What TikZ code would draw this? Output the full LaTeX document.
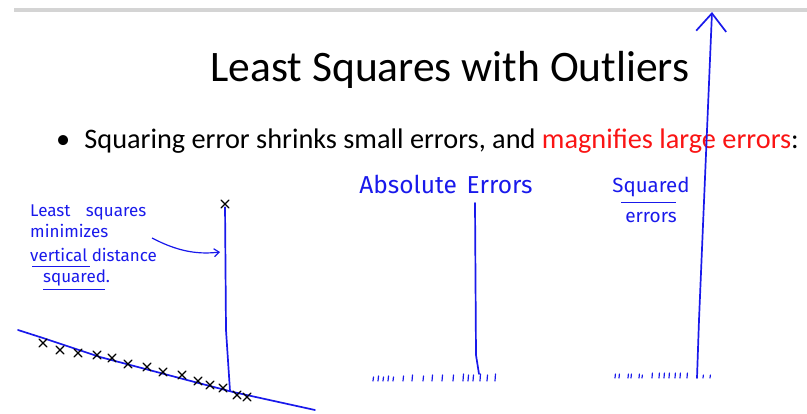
\documentclass[tikz,border=0pt]{standalone}
\usepackage{fontspec}
\setmainfont{Carlito}
\newfontfamily\handfont{Fira Sans}
\usetikzlibrary{arrows.meta,positioning}
\definecolor{inkblue}{RGB}{25,25,235}
\definecolor{alertred}{RGB}{250,20,20}
\definecolor{rulegray}{RGB}{212,212,212}
\tikzset{
  titletext/.style={font=\fontsize{43.5}{48}\selectfont,inner sep=0pt},
  bullettext/.style={font=\fontsize{28.3}{32}\selectfont,inner sep=0pt,anchor=west},
  hand/.style={font=\handfont,text=inkblue,inner sep=0pt,align=left},
  handline/.style={hand,font=\handfont\fontsize{17}{20}\selectfont,anchor=base west},
  inkline/.style={draw=inkblue,line width=1.7pt,line cap=round},
  tickmark/.style={draw=inkblue,line width=1.2pt,line cap=round},
  crossmark/.style={draw=black,line width=1.3pt,line cap=round}
}
\begin{document}
\begin{tikzpicture}[x=1pt,y=-1pt]
  \useasboundingbox (0,0) rectangle (807,413);
  \draw[rulegray,line width=4.5pt] (14,10) -- (807,10);

  % title and bullet
  \node[titletext] (title) at (450,70) {Least Squares with Outliers};
  \node[bullettext] (point) at (56,141) {\textbullet\hspace{0.5em}Squaring error shrinks small errors, and \textcolor{alertred}{magnifies large errors}:};

  % left panel: line fit with an outlier
  \draw[inkline] (18,330) -- (43,338) -- (100,357) -- (187,380) -- (233,392) -- (315,410);
  \foreach \p in {(43,343),(60,350),(78,353),(97,355),(112,358),(128,364),(147,367),(163,372),(182,375),(198,381),(210,385),(223,388),(237,395),(247,397)}
    \draw[crossmark] \p +(-4,-4) -- +(4,4) \p +(-4,4) -- +(4,-4);
  \node[inner sep=3pt] (outlier) at (225,204) {};
  \draw[crossmark] (outlier.center) +(-4,-4) -- +(4,4) (outlier.center) +(-4,4) -- +(4,-4);
  \coordinate (fitfoot) at (230,391);
  \draw[inkline] (outlier) -- (226,330) -- (fitfoot);

  \node[handline] (lsqa) at (30,216) {Least\hspace{0.9em}squares};
  \node[handline] (lsqb) at (30,237) {minimizes};
  \node[handline] (lsqc) at (30,261) {vertical distance};
  \node[handline] (lsqd) at (43,282) {squared.};
  \draw[inkblue,line width=1pt] (32,266) -- (90,266);
  \draw[inkblue,line width=1pt] (43,289) -- (105,289);
  \coordinate (bendstart) at (152,238);
  \coordinate (bendend) at (220,252);
  \draw[inkblue,line width=1.2pt,-{Straight Barb[length=5pt,width=8pt]}]
    (bendstart) .. controls (175,250) and (195,255) .. (bendend);

  % middle panel: absolute errors
  \node[hand,font=\handfont\fontsize{24.5}{28}\selectfont] (abslabel) at (446,184) {Absolute\hspace{0.4em}Errors};
  \coordinate (abstop) at (475,203);
  \coordinate (absfoot) at (479,374);
  \draw[inkline] (abstop) -- (476,355) -- (absfoot);
  \foreach \x/\h in {373/4,378/5,383/4,388/5,393/4,403/5,412/6,423/5,432/6,442/6,453/6,463/7,468/6,473/6,480/7,487/6,495/7}
    \draw[tickmark] (\x,381) -- ++(0.5,-\h);

  % right panel: squared errors
  \node[hand,font=\handfont\fontsize{20.5}{24}\selectfont] (sqlabel) at (651,187) {Squared};
  \draw[inkblue,line width=1pt] (621,202) -- (676,202);
  \node[hand,font=\handfont\fontsize{19}{22}\selectfont] (errlabel) at (651,217) {errors};
  \coordinate (sqfoot) at (697,378);
  \coordinate (sqtip) at (712,12);
  \draw[inkline,-{Straight Barb[length=18pt,width=30pt]}] (sqfoot) -- (699,320) -- (sqtip);
  \foreach \x/\h in {615/4,619/4,628/4,631/4,639/4,642/3,652/5,659/5,664/5,669/5,675/5,680/5,687/5,703/3,710/3}
    \draw[tickmark] (\x,378) -- ++(0.4,-\h);
\end{tikzpicture}
\end{document}
